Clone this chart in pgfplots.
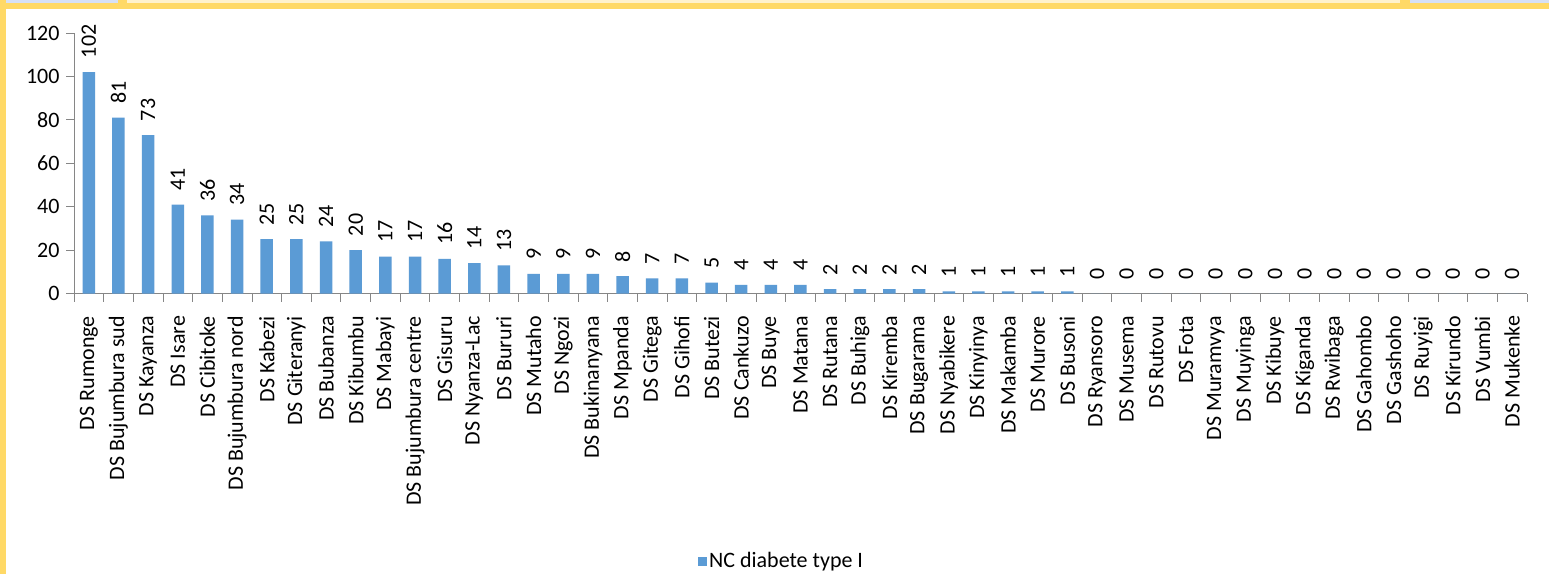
\documentclass[border=0pt]{standalone}
\usepackage{fontspec}
\setmainfont{Carlito}
\usepackage{pgfplots}
\pgfplotsset{compat=1.18}
\definecolor{barblue}{HTML}{5B9BD5}
\definecolor{axisgray}{HTML}{868686}
\definecolor{frameyellow}{HTML}{FFD966}
\definecolor{paleyellow}{HTML}{FFF2CC}
\definecolor{paleblue}{HTML}{D6E0F5}
\newcommand{\chartfont}{\fontsize{22}{26}\selectfont}

\begin{document}
\begin{tikzpicture}[x=1pt,y=1pt]
% page and window frame
\fill[white] (0,0) rectangle (1549,-574);
\fill[frameyellow] (0,0) rectangle (1549,-9);
\fill[paleblue] (0,0) rectangle (118,-3);
\fill[paleyellow] (127,0) rectangle (1400,-3);
\fill[paleblue] (1410,0) rectangle (1549,-3);
\fill[frameyellow] (0,0) rectangle (6,-574);

\begin{axis}[
  at={(74pt,-293.5pt)}, anchor=south west,
  scale only axis, width=1453pt, height=260.5pt,
  xmin=-0.5, xmax=48.5, ymin=0, ymax=120,
  axis x line*=bottom, axis y line*=left,
  axis line style={axisgray, -},
  ybar, bar width=12.5pt,
  ytick={0,20,...,120},
  xtick={-0.5,0.5,...,48.5},
  x tick label as interval,
  tick align=outside,
  major tick length=8pt,
  tick style={axisgray, line width=0.8pt},
  /pgf/number format/assume math mode=true,
  tick label style={font=\chartfont, text=black},
  yticklabel style={xshift=-3pt},
  % labels are rotated, so xshift moves them down the page
  xticklabel style={rotate=90, anchor=east, xshift=-11pt},
  xticklabels={DS Rumonge, DS Bujumbura sud, DS Kayanza, DS Isare, DS Cibitoke,
    DS Bujumbura nord, DS Kabezi, DS Giteranyi, DS Bubanza, DS Kibumbu, DS Mabayi,
    DS Bujumbura centre, DS Gisuru, DS Nyanza-Lac, DS Bururi, DS Mutaho, DS Ngozi,
    DS Bukinanyana, DS Mpanda, DS Gitega, DS Gihofi, DS Butezi, DS Cankuzo, DS Buye,
    DS Matana, DS Rutana, DS Buhiga, DS Kiremba, DS Bugarama, DS Nyabikere,
    DS Kinyinya, DS Makamba, DS Murore, DS Busoni, DS Ryansoro, DS Musema,
    DS Rutovu, DS Fota, DS Muramvya, DS Muyinga, DS Kibuye, DS Kiganda, DS Rwibaga,
    DS Gahombo, DS Gashoho, DS Ruyigi, DS Kirundo, DS Vumbi, DS Mukenke},
  nodes near coords,
  every node near coord/.append style={rotate=90, anchor=west, font=\chartfont,
    text=black, inner sep=0pt, outer sep=0pt, shift={(14pt,0pt)}},
  legend style={at={(0.487,-1.027)}, anchor=center, draw=none, fill=none,
    font=\chartfont, text=black},
  legend image code/.code={\fill[barblue] (-7pt,-4.5pt) rectangle (2pt,4.5pt);},
  clip=false,
]
\addplot[fill=barblue, draw=none]
coordinates {
  (0,102) (1,81) (2,73) (3,41) (4,36) (5,34) (6,25) (7,25) (8,24) (9,20)
  (10,17) (11,17) (12,16) (13,14) (14,13) (15,9) (16,9) (17,9) (18,8) (19,7)
  (20,7) (21,5) (22,4) (23,4) (24,4) (25,2) (26,2) (27,2) (28,2) (29,1)
  (30,1) (31,1) (32,1) (33,1) (34,0) (35,0) (36,0) (37,0) (38,0) (39,0)
  (40,0) (41,0) (42,0) (43,0) (44,0) (45,0) (46,0) (47,0) (48,0)
};
\addlegendentry{NC diabete type I}
\end{axis}
\end{tikzpicture}
\end{document}
